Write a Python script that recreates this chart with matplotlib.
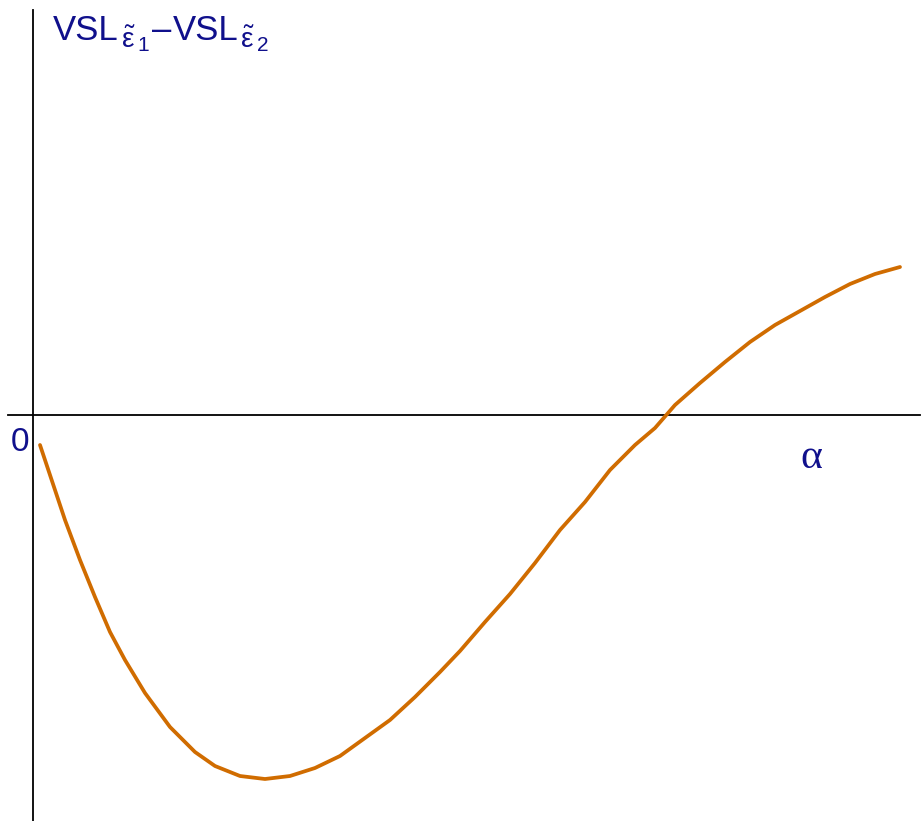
import numpy as np
import matplotlib
matplotlib.use("Agg")
import matplotlib.pyplot as plt

plt.rcParams["mathtext.fontset"] = "custom"
plt.rcParams["mathtext.rm"] = "Liberation Sans"
plt.rcParams["mathtext.it"] = "Liberation Sans"
plt.rcParams["mathtext.bf"] = "Liberation Sans:bold"

# curve (alpha, VSL difference), arbitrary units
alpha = [0.07, 0.17, 0.32, 0.47, 0.62, 0.77, 0.92, 1.12, 1.37, 1.62, 1.82,
         2.07, 2.32, 2.57, 2.82, 3.07, 3.32, 3.57, 3.82, 4.07, 4.27, 4.52,
         4.77, 5.02, 5.27, 5.52, 5.77, 6.02, 6.22, 6.42, 6.67, 6.92, 7.17,
         7.42, 7.67, 7.92, 8.17, 8.42, 8.67]
diff = [-0.30, -0.60, -1.05, -1.45, -1.82, -2.17, -2.45, -2.78, -3.12, -3.37,
        -3.51, -3.61, -3.64, -3.61, -3.53, -3.41, -3.23, -3.05, -2.82, -2.57,
        -2.36, -2.07, -1.79, -1.48, -1.15, -0.87, -0.55, -0.30, -0.13, 0.10,
        0.32, 0.53, 0.73, 0.90, 1.04, 1.18, 1.31, 1.41, 1.48]

NAVY = "#10108c"
ORANGE = "#d06c00"

fig = plt.figure(figsize=(9.22, 8.21), dpi=100)
ax = fig.add_axes([0, 0, 1, 1])
ax.set_xlim(-0.33, 8.89)
ax.set_ylim(-4.06, 4.15)
ax.axis("off")

# axes lines crossing at the origin
ax.plot([-0.25, 8.87], [0, 0], color="black", lw=1.3)
ax.plot([0, 0], [-4.06, 4.05], color="black", lw=1.3)

ax.plot(alpha, diff, color=ORANGE, lw=2.7, solid_capstyle="round")

# y label built piece by piece so the subscripts can be smaller
label_parts = [("VSL", 25, 0, 2), (r"$\tilde{\varepsilon}$", 20, -8, 2),
               ("1", 15, -11, 3), ("\u2013", 25, 0, 1), ("VSL", 25, 0, 2),
               (r"$\tilde{\varepsilon}$", 20, -8, 2), ("2", 15, -11, 0)]
renderer = fig.canvas.get_renderer()
x0, y0 = 53, 821 - 40
xpix = x0
for txt, size, dy, gap in label_parts:
    t = fig.text(xpix / 922, (y0 + dy) / 821, txt, color=NAVY, fontsize=size,
                 family="Liberation Sans", ha="left", va="baseline")
    bb = t.get_window_extent(renderer)
    xpix = bb.x1 + gap

ax.text(-0.13, -0.27, "0", color=NAVY, fontsize=24, family="Liberation Sans",
        ha="center", va="center")
ax.text(7.78, -0.43, "α", color=NAVY, fontsize=30, family="Liberation Serif",
        ha="center", va="center")

fig.savefig("out.png", dpi=100)
